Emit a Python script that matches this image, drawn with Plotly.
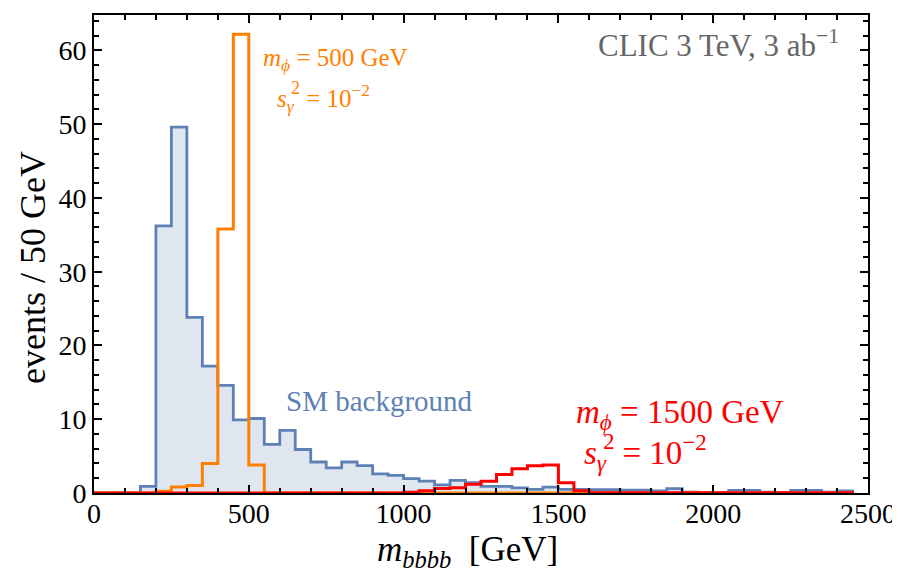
import plotly.graph_objects as go

# ---- data (bin lower edges, 50 GeV bins) ----
bin_width = 50
bin_edges = [i * 50 for i in range(49)]  # 0 ... 2400

sm_background = [0, 0, 0, 0.9, 36.2, 49.6, 23.8, 17.2, 14.6, 9.9,
                 10.1, 6.6, 8.5, 5.9, 4.2, 3.4, 4.2, 3.7, 2.6, 2.4,
                 1.95, 1.6, 1.1, 1.7, 1.4, 0.9, 0.9, 0.7, 0.5, 0.8,
                 0.5, 0.5, 0.45, 0.45, 0.4, 0.4, 0.3, 0.6, 0.1, 0.05,
                 0.05, 0.35, 0.35, 0.1, 0.05, 0.35, 0.35, 0.1, 0.3]

signal_500 = [0, 0, 0, 0, 0.25, 0.8, 1.0, 4.0, 35.8, 62.2,
              3.8, 0, 0, 0, 0, 0, 0, 0, 0, 0,
              0, 0, 0, 0, 0, 0, 0, 0, 0, 0,
              0, 0, 0, 0, 0, 0, 0, 0, 0, 0,
              0, 0, 0, 0, 0, 0, 0, 0, 0]

signal_1500 = [0, 0, 0, 0, 0, 0, 0, 0, 0, 0,
               0, 0, 0, 0, 0, 0, 0, 0, 0, 0,
               0.1, 0.3, 0.6, 0.7, 1.2, 1.6, 2.5, 3.3, 3.7, 3.8,
               1.4, 0.3, 0.05, 0.05, 0.05, 0.05, 0.05, 0.05, 0.05, 0.05,
               0.05, 0.05, 0.05, 0.05, 0.05, 0.05, 0.05, 0.05, 0.05]

x_ticks = [0, 500, 1000, 1500, 2000, 2500]
y_ticks = [0, 10, 20, 30, 40, 50, 60]

BLUE = "#5E81B5"
ORANGE = "#FF8000"
RED = "#FF0000"
FILL = "rgba(94,129,181,0.2)"
SERIF = "Liberation Serif, Times New Roman, serif"
NBSP = "\u00a0"


def step_xy(edges, vals, width):
    xs = list(edges) + [edges[-1] + width, edges[-1] + width]
    ys = list(vals) + [vals[-1], 0]
    return xs, ys


fig = go.Figure()

bx, by = step_xy(bin_edges, sm_background, bin_width)
fig.add_trace(go.Scatter(x=bx, y=by, mode="lines", line=dict(color=BLUE, width=2.8, shape="hv"),
                         fill="tozeroy", fillcolor=FILL, hoverinfo="skip", showlegend=False))

ox, oy = step_xy(bin_edges, signal_500, bin_width)
fig.add_trace(go.Scatter(x=ox, y=oy, mode="lines", line=dict(color=ORANGE, width=3, shape="hv"),
                         hoverinfo="skip", showlegend=False))

rx, ry = step_xy(bin_edges, signal_1500, bin_width)
fig.add_trace(go.Scatter(x=rx, y=ry, mode="lines", line=dict(color=RED, width=3, shape="hv"),
                         hoverinfo="skip", showlegend=False))

axis_common = dict(
    showline=True, linecolor="black", linewidth=2, mirror="ticks",
    ticks="inside", tickcolor="black", tickwidth=2, ticklen=8,
    showgrid=False, zeroline=False, automargin=False,
    tickfont=dict(family=SERIF, size=28, color="black"),
)

fig.update_xaxes(range=[0, 2500], tickvals=x_ticks, ticklabelstandoff=-6,
                 minor=dict(dtick=100, ticks="inside", ticklen=5, tickwidth=2, tickcolor="black", showgrid=False),
                 **axis_common)
fig.update_yaxes(range=[0, 64.8], tickvals=y_ticks,
                 minor=dict(dtick=2, ticks="inside", ticklen=5, tickwidth=2, tickcolor="black", showgrid=False),
                 **axis_common)

ann_orange = dict(family=SERIF, size=25, color=ORANGE)
ann_red = dict(family=SERIF, size=33, color=RED)
annotations = [
    dict(x=2413, y=60.9, text="CLIC 3 TeV, 3 ab<sup>−1</sup>", xanchor="right", yanchor="middle",
         font=dict(family=SERIF, size=31, color="#666666")),
    dict(x=539, y=58.8, text="<i>m</i><sub><i>ϕ</i></sub> = 500 GeV", xanchor="left", yanchor="middle",
         font=ann_orange),
    dict(x=584, y=53.5, text="<i>s</i><sub><i>γ</i></sub>" + NBSP + " = 10<sup>−2</sup>",
         xanchor="left", yanchor="middle", font=ann_orange),
    dict(x=629, y=54.9, text="2", xanchor="left", yanchor="middle",
         font=dict(family=SERIF, size=18, color=ORANGE)),
    dict(x=614, y=12.5, text="SM background", xanchor="left", yanchor="middle",
         font=dict(family=SERIF, size=29, color=BLUE)),
    dict(x=1550, y=10.7, text="<i>m</i><sub><i>ϕ</i></sub> = 1500 GeV", xanchor="left", yanchor="middle",
         font=ann_red),
    dict(x=1575, y=5.5, text="<i>s</i><sub><i>γ</i></sub>" + NBSP + " = 10<sup>−2</sup>",
         xanchor="left", yanchor="middle", font=ann_red),
    dict(x=1637, y=7.0, text="2", xanchor="left", yanchor="middle",
         font=dict(family=SERIF, size=23, color=RED)),
]
for a in annotations:
    a.update(xref="x", yref="y", showarrow=False)

# axis titles
annotations += [
    dict(x=(466 - 93) / 774, y=-(549 - 491) / 478, xref="paper", yref="paper",
         text="<i>m</i><sub><i>bbbb</i></sub>  [GeV]", showarrow=False,
         xanchor="center", yanchor="middle", font=dict(family=SERIF, size=35, color="black")),
    dict(x=-(93 - 32) / 774, y=(491 - 266) / 478, xref="paper", yref="paper",
         text="events / 50 GeV", showarrow=False, textangle=-90,
         xanchor="center", yanchor="middle", font=dict(family=SERIF, size=36, color="black")),
]
fig.update_layout(annotations=annotations)

fig.update_layout(
    width=900, height=572,
    margin=dict(l=86, r=40, t=7, b=87),
    plot_bgcolor="white", paper_bgcolor="white",
    font=dict(family=SERIF),
)

fig.write_html("out.html")
